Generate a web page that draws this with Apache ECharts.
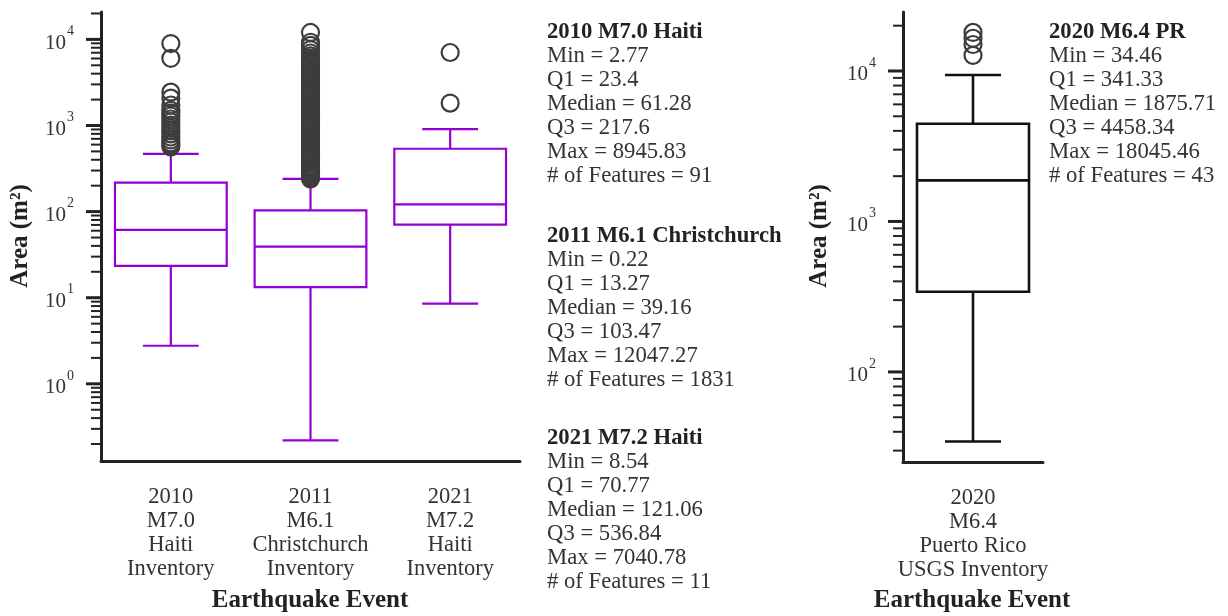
<!DOCTYPE html>
<html><head><meta charset="utf-8">
<script src="https://cdn.jsdelivr.net/npm/echarts@6/dist/echarts.min.js"></script>
<style>html,body{margin:0;padding:0;background:#fff}#c{width:1228px;height:616px}</style>
</head><body><div id="c"></div>
<script>
const FONT = '"Liberation Serif", "DejaVu Serif", serif';
const INK = '#222';

// ---- data ----
const leftCategories = ['2010\nM7.0\nHaiti\nInventory', '2011\nM6.1\nChristchurch\nInventory', '2021\nM7.2\nHaiti\nInventory'];
// [lower whisker, Q1, median, Q3, upper whisker]
const leftBoxes = [
  [2.77, 23.4, 61.28, 217.6, 468],
  [0.22, 13.27, 39.16, 103.47, 240],
  [8.54, 70.77, 121.06, 536.84, 910]
];
const outliers2010 = [8945.83, 6030, 2440, 2080, 1730, 1500, 1390, 1290, 1190, 1100, 1010, 935, 865, 800, 735, 680, 630, 600, 565];
const outliers2011 = [240, 250, 262, 274, 288, 301, 315, 331, 346, 362, 380, 399, 418, 437, 460, 482, 505, 531, 556, 582, 611, 640, 672, 704, 740, 776, 812, 851, 892, 936, 981, 1030, 1078, 1131, 1186, 1242, 1301, 1365, 1431, 1500, 1571, 1649, 1728, 1811, 1900, 1992, 2088, 2190, 2298, 2410, 2528, 2650, 2779, 2912, 3051, 3198, 3352, 3518, 3690, 3870, 4058, 4252, 4458, 4679, 4903, 5148, 5402, 5697, 6010, 6420, 6950, 7620, 8510, 9260, 12047.27];
const outliers2021 = [7040.78, 1820];

const rightCategories = ['2020\nM6.4\nPuerto Rico\nUSGS Inventory'];
const rightBoxes = [[34.46, 341.33, 1875.71, 4458.34, 9400]];
const outliersPR = [18045.46, 16500, 15000, 12700];

// ---- axis ticks ----
const leftMajorTicks = [1, 10, 100, 1000, 10000];
const leftMinorTicks = [0.2, 0.3, 0.4, 0.5, 0.6, 0.7, 0.8, 0.9, 2, 3, 4, 5, 6, 7, 8, 9, 20, 30, 40, 50, 60, 70, 80, 90,
  200, 300, 400, 500, 600, 700, 800, 900, 2000, 3000, 4000, 5000, 6000, 7000, 8000, 9000, 20000];
const rightMajorTicks = [100, 1000, 10000];
const rightMinorTicks = [30, 40, 50, 60, 70, 80, 90, 200, 300, 400, 500, 600, 700, 800, 900,
  2000, 3000, 4000, 5000, 6000, 7000, 8000, 9000, 20000];

// ---- annotation text ----
const statsBlocks = [
  { title: '2010 M7.0 Haiti', lines: ['Min = 2.77', 'Q1 = 23.4', 'Median = 61.28', 'Q3 = 217.6', 'Max = 8945.83', '# of Features = 91'], x: 547, y: 20 },
  { title: '2011 M6.1 Christchurch', lines: ['Min = 0.22', 'Q1 = 13.27', 'Median = 39.16', 'Q3 = 103.47', 'Max = 12047.27', '# of Features = 1831'], x: 547, y: 224 },
  { title: '2021 M7.2 Haiti', lines: ['Min = 8.54', 'Q1 = 70.77', 'Median = 121.06', 'Q3 = 536.84', 'Max = 7040.78', '# of Features = 11'], x: 547, y: 426 },
  { title: '2020 M6.4 PR', lines: ['Min = 34.46', 'Q1 = 341.33', 'Median = 1875.71', 'Q3 = 4458.34', 'Max = 18045.46', '# of Features = 43'], x: 1049, y: 20 }
];

// ---- builders ----
function boxSeries(gi, boxes, nCat, color, lw) {
  return {
    type: 'custom', xAxisIndex: gi, yAxisIndex: gi, z: 3, clip: false, silent: true,
    encode: { x: 0, y: [1, 2, 3, 4, 5] },
    data: boxes.map((b, i) => [i].concat(b)),
    renderItem(params, api) {
      const i = api.value(0);
      const cs = params.coordSys;
      const band = cs.width / nCat;
      const cx = api.coord([i, api.value(3)])[0];
      const ys = [1, 2, 3, 4, 5].map(d => api.coord([i, api.value(d)])[1]);
      const hw = band * 0.4, cw = band * 0.2;
      const st = { stroke: color, lineWidth: lw, fill: 'none' };
      return { type: 'group', children: [
        { type: 'line', shape: { x1: cx, y1: ys[0], x2: cx, y2: ys[1] }, style: st },
        { type: 'line', shape: { x1: cx, y1: ys[3], x2: cx, y2: ys[4] }, style: st },
        { type: 'line', shape: { x1: cx - cw, y1: ys[0], x2: cx + cw, y2: ys[0] }, style: st },
        { type: 'line', shape: { x1: cx - cw, y1: ys[4], x2: cx + cw, y2: ys[4] }, style: st },
        { type: 'rect', shape: { x: cx - hw, y: ys[3], width: 2 * hw, height: ys[1] - ys[3] }, style: { stroke: color, lineWidth: lw, fill: '#fff' } },
        { type: 'line', shape: { x1: cx - hw, y1: ys[2], x2: cx + hw, y2: ys[2] }, style: st }
      ] };
    }
  };
}

function outlierSeries(gi, idx, vals) {
  return {
    type: 'scatter', xAxisIndex: gi, yAxisIndex: gi, z: 4, silent: true,
    symbol: 'circle', symbolSize: 17,
    itemStyle: { color: 'rgba(0,0,0,0)', borderColor: '#3d3d3d', borderWidth: 2.2, opacity: 1 },
    emphasis: { disabled: true },
    data: vals.map(v => [idx, v])
  };
}

function tickSeries(gi, majors, minors) {
  const data = majors.map(v => [0, v, 1]).concat(minors.map(v => [0, v, 0]));
  return {
    type: 'custom', xAxisIndex: gi, yAxisIndex: gi, z: 5, clip: false, silent: true,
    encode: { x: 0, y: 1 }, data,
    renderItem(params, api) {
      const cs = params.coordSys;
      const v = api.value(1);
      const major = api.value(2) === 1;
      const y = api.coord([0, v])[1];
      const ax = cs.x;
      const ch = [{ type: 'line', shape: { x1: ax - (major ? 15 : 10), y1: y, x2: ax, y2: y }, style: { stroke: INK, lineWidth: major ? 3 : 2 } }];
      if (major) {
        const e = Math.round(Math.log10(v));
        ch.push({ type: 'text', x: ax - 35, y: y + 4, style: { text: '10', font: '21px ' + FONT, fill: '#333', align: 'right', verticalAlign: 'middle' } });
        ch.push({ type: 'text', x: ax - 34, y: y - 8, style: { text: String(e), font: '14px ' + FONT, fill: '#333', align: 'left', verticalAlign: 'middle' } });
      }
      return { type: 'group', children: ch };
    }
  };
}

function xAxisCfg(gi, cats) {
  return {
    gridIndex: gi, type: 'category', data: cats, boundaryGap: true,
    axisLine: { onZero: false, lineStyle: { color: INK, width: 3 } },
    axisTick: { alignWithLabel: true, length: 14, lineStyle: { color: INK, width: 3 } },
    axisLabel: { interval: 0, fontSize: 22.5, fontFamily: FONT, color: '#333', lineHeight: 24, margin: 24 },
    splitLine: { show: false }
  };
}
function yAxisCfg(gi, mn, mx) {
  return {
    gridIndex: gi, type: 'log', logBase: 10, min: mn, max: mx,
    axisLine: { show: true, lineStyle: { color: INK, width: 3 } },
    axisTick: { show: false }, axisLabel: { show: false },
    splitLine: { show: false }, minorTick: { show: false }
  };
}

const graphics = [];
statsBlocks.forEach(b => {
  const txt = ['{t|' + b.title + '}'].concat(b.lines.map(l => '{n|' + l + '}')).join('\n');
  graphics.push({ type: 'text', x: b.x, y: b.y, silent: true, style: {
    text: txt, align: 'left', verticalAlign: 'top', fill: '#333',
    rich: {
      t: { fontFamily: FONT, fontSize: 22.7, fontWeight: 'bold', lineHeight: 24, fill: '#222' },
      n: { fontFamily: FONT, fontSize: 22.7, lineHeight: 24, fill: '#333' }
    }
  } });
});
[[21, 236], [820, 236]].forEach(p => graphics.push({ type: 'text', x: p[0], y: p[1], rotation: Math.PI / 2, silent: true,
  style: { text: 'Area (m²)', font: 'bold 25px ' + FONT, fill: INK, align: 'center', verticalAlign: 'middle' } }));
[[310, 601], [972, 601]].forEach(p => graphics.push({ type: 'text', x: p[0], y: p[1], silent: true,
  style: { text: 'Earthquake Event', font: 'bold 25px ' + FONT, fill: INK, align: 'center', verticalAlign: 'middle' } }));

const chart = echarts.init(document.getElementById('c'), null, { renderer: 'canvas' });
chart.setOption({
  animation: false,
  backgroundColor: '#fff',
  grid: [
    { left: 101, top: 12, width: 419, height: 449 },
    { left: 903, top: 12, width: 140, height: 450 }
  ],
  xAxis: [xAxisCfg(0, leftCategories), xAxisCfg(1, rightCategories)],
  yAxis: [yAxisCfg(0, 0.127, 20800), yAxisCfg(1, 25.2, 24660)],
  series: [
    boxSeries(0, leftBoxes, leftCategories.length, '#9400D3', 2.2),
    outlierSeries(0, 0, outliers2010),
    outlierSeries(0, 1, outliers2011),
    outlierSeries(0, 2, outliers2021),
    tickSeries(0, leftMajorTicks, leftMinorTicks),
    boxSeries(1, rightBoxes, rightCategories.length, '#111', 2.6),
    outlierSeries(1, 0, outliersPR),
    tickSeries(1, rightMajorTicks, rightMinorTicks)
  ],
  graphic: graphics
});
</script></body></html>
